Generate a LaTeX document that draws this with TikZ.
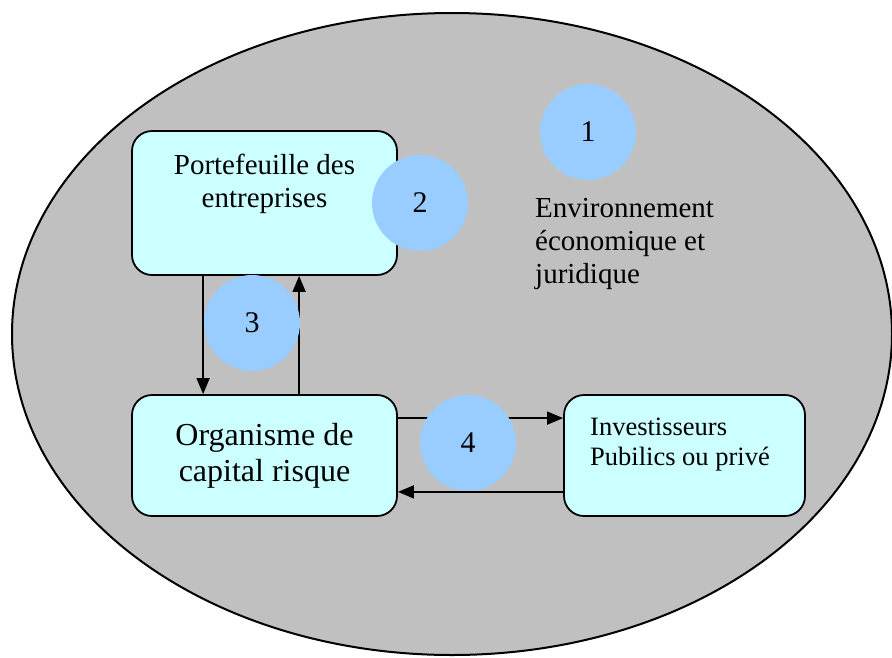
\documentclass[tikz,border=0pt]{standalone}
\usepackage{fontspec}
\setmainfont{Liberation Serif}
\usepackage{xcolor}
\usetikzlibrary{arrows.meta}
\definecolor{envgray}{HTML}{C0C0C0}
\definecolor{boxcyan}{HTML}{CCFFFF}
\definecolor{bulleblue}{HTML}{99CCFF}

\begin{document}
\begin{tikzpicture}[x=1pt,y=-1pt,
    box/.style={draw=black, line width=1.8pt, fill=boxcyan, rounded corners=20pt, inner sep=0pt},
    bulle/.style={circle, fill=bulleblue, minimum size=96pt, inner sep=0pt, font=\fontsize{30}{34}\selectfont},
    fleche/.style={line width=1.6pt, -{Triangle[length=16pt,width=13pt]}}]
                \useasboundingbox (0,0) rectangle (892,657);
                \draw[fill=envgray, line width=2pt] (452,334) ellipse [x radius=440pt, y radius=321pt];
                % les trois acteurs
                \node[box, minimum width=265pt, minimum height=144pt] (portef) at (264.5,203) {};
                \node[box, minimum width=265pt, minimum height=121pt, align=center,
                      font=\fontsize{32}{36}\selectfont] (orga) at (264.5,455.5) {Organisme de\\capital risque};
                \node[box, minimum width=241pt, minimum height=121pt] (invest) at (684.5,455.5) {};
                \node[anchor=north, inner sep=0pt, align=center, font=\fontsize{29}{33}\selectfont]
                      (portef-txt) at (264.5,154) {Portefeuille des\\entreprises};
                \node[anchor=north west, inner sep=0pt, align=left, font=\fontsize{26.5}{30}\selectfont]
                      (invest-txt) at (590,417.5) {Investisseurs\\Pubilics ou privé};
                \node[anchor=north west, inner sep=0pt, align=left, font=\fontsize{29}{33}\selectfont]
                      (env-txt) at (535,198) {Environnement\\économique et\\juridique};
                % les flux
                \draw[fleche] ([xshift=72pt]portef.south west) -- ([xshift=72pt]orga.north west);
                \draw[fleche] ([xshift=168pt]orga.north west) -- ([xshift=168pt]portef.south west);
                \draw[fleche] ([yshift=-24pt]orga.north east) -- ([yshift=-24pt]invest.north west);
                \draw[fleche] ([yshift=25pt]invest.south west) -- ([yshift=25pt]orga.south east);
                % les bulles
                \node[bulle] (b1) at (588,132) {1};
                \node[bulle] (b2) at (420,203) {2};
                \node[bulle] (b3) at (252,323) {3};
                \node[bulle] (b4) at (468,443) {4};
            \end{tikzpicture}
\end{document}
